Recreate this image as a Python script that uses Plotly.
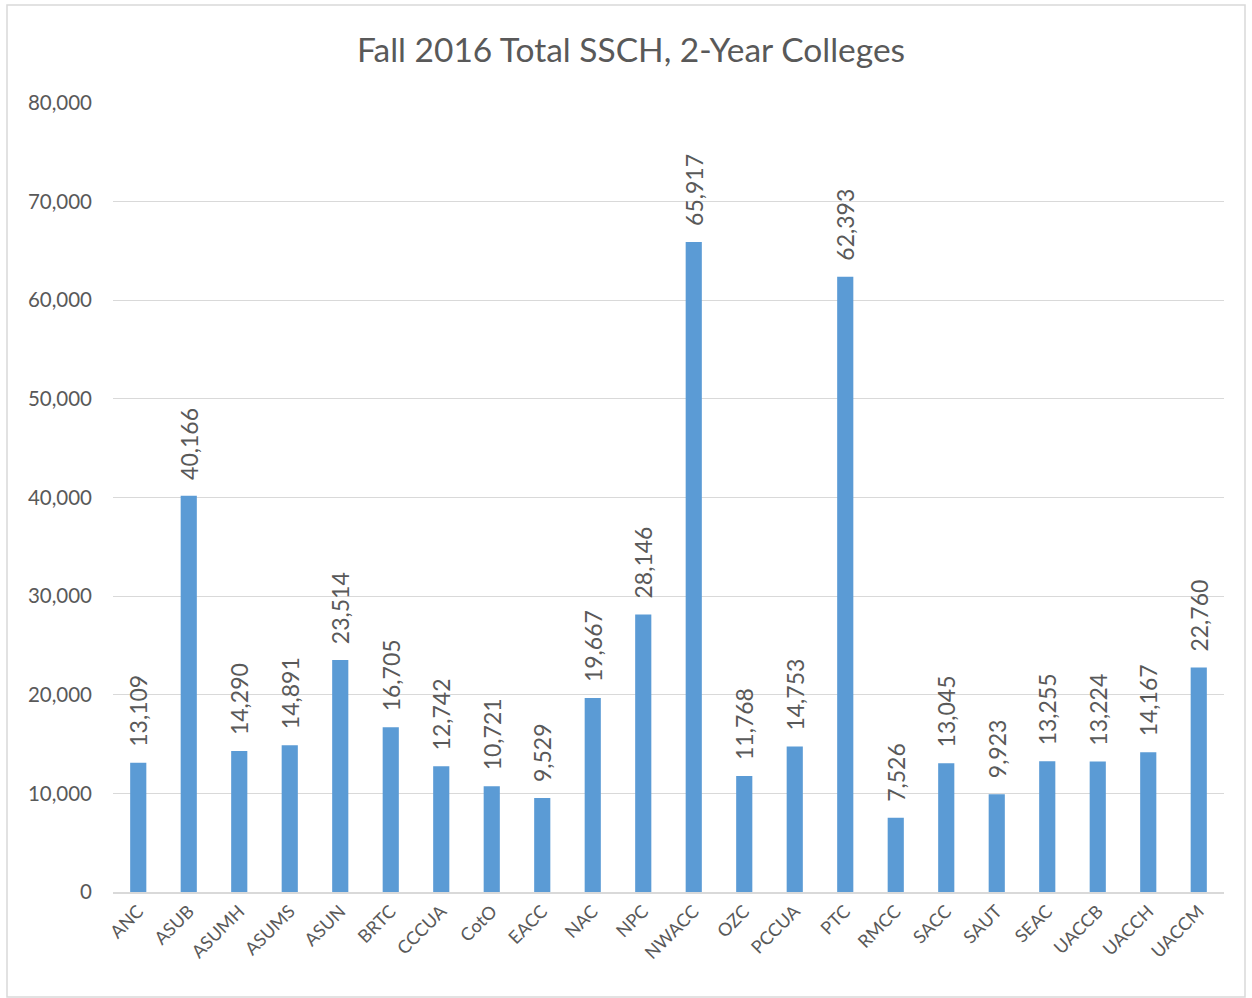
import plotly.graph_objects as go

categories = ["ANC", "ASUB", "ASUMH", "ASUMS", "ASUN", "BRTC", "CCCUA", "CotO", "EACC", "NAC", "NPC",
              "NWACC", "OZC", "PCCUA", "PTC", "RMCC", "SACC", "SAUT", "SEAC", "UACCB", "UACCH", "UACCM"]
values = [13109, 40166, 14290, 14891, 23514, 16705, 12742, 10721, 9529, 19667, 28146,
          65917, 11768, 14753, 62393, 7526, 13045, 9923, 13255, 13224, 14167, 22760]
y_ticks = [0, 10000, 20000, 30000, 40000, 50000, 60000, 70000, 80000]

W, H = 1252, 998
L, R, T, B = 113, 28, 103, 106
pw, ph = W - L - R, H - T - B

FONT = "Lato, 'Open Sans', sans-serif"
GREY = "#595959"

fig = go.Figure(go.Bar(
    x=categories, y=values,
    marker=dict(color="#5b9bd5", line=dict(width=0)),
    text=["\u2002\u200a" + f"{v:,}" for v in values],
    textposition="outside", textangle=-90,
    textfont=dict(family=FONT, size=23, color=GREY),
    cliponaxis=False,
))

def px_x(p):
    return (p - L) / pw

def px_y(p):
    return 1 - (p - T) / ph

fig.update_layout(
    width=W, height=H,
    margin=dict(l=L, r=R, t=T, b=B),
    paper_bgcolor="white", plot_bgcolor="white",
    uniformtext=dict(minsize=23, mode="show"),
    title=dict(text="Fall 2016 Total SSCH, 2-Year Colleges", x=0.504, xanchor="center",
               y=1 - 50 / H, yanchor="middle",
               font=dict(family=FONT, size=33.5, color=GREY)),
    bargap=0.68,
    showlegend=False,
    xaxis=dict(tickangle=-45, tickfont=dict(family=FONT, size=18, color=GREY),
               showline=True, linecolor="#d9d9d9", linewidth=1.5, ticks="", showgrid=False),
    yaxis=dict(range=[0, 80000], tickvals=y_ticks, tickformat=",",
               tickfont=dict(family=FONT, size=20.5, color=GREY),
               showgrid=True, gridcolor="#d9d9d9", gridwidth=1.2,
               zeroline=False, showline=False, ticks="", ticklabelstandoff=20),
    shapes=[dict(type="rect", xref="paper", yref="paper",
                 x0=px_x(7), x1=px_x(1245), y0=px_y(997), y1=px_y(5),
                 line=dict(color="#d9d9d9", width=1.5), fillcolor="rgba(0,0,0,0)", layer="below")],
)

fig.write_html("out.html", config={"displayModeBar": False},
               post_script="document.body.style.margin='0';document.body.style.overflow='hidden';")
